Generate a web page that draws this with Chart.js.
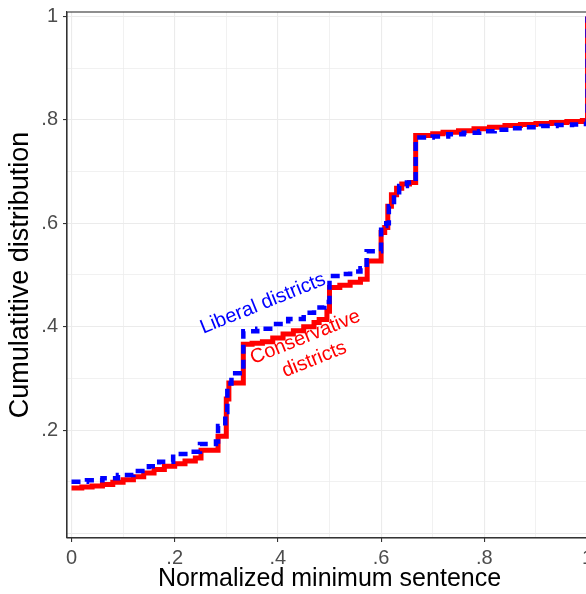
<!DOCTYPE html>
<html>
<head>
<meta charset="utf-8">
<script src="https://cdn.jsdelivr.net/npm/chart.js@4.4.1/dist/chart.umd.min.js"></script>
<style>
  html, body { margin: 0; padding: 0; background: #ffffff; overflow: hidden; width: 586px; height: 594px; }
  canvas { display: block; }
</style>
</head>
<body>
<canvas id="c" width="596" height="594"></canvas>
<script>
// ---- Data ----
const consXs = [0, 0.02, 0.04, 0.06, 0.08, 0.10, 0.12, 0.14, 0.16, 0.18, 0.20, 0.22, 0.24, 0.251, 0.284, 0.300, 0.305, 0.333,
  0.35, 0.37, 0.39, 0.41, 0.43, 0.45, 0.47, 0.48, 0.495, 0.500, 0.52, 0.54, 0.56, 0.573, 0.600, 0.607, 0.613, 0.62, 0.63, 0.64, 0.655, 0.667,
  0.70, 0.72, 0.75, 0.78, 0.81, 0.84, 0.87, 0.90, 0.93, 0.96, 0.99, 1.0];
const consYs = [0.088, 0.090, 0.092, 0.095, 0.099, 0.104, 0.110, 0.117, 0.124, 0.130, 0.135, 0.140, 0.146, 0.161, 0.188, 0.260, 0.291, 0.366,
  0.368, 0.371, 0.378, 0.386, 0.392, 0.400, 0.408, 0.414, 0.430, 0.476, 0.480, 0.486, 0.492, 0.527, 0.582, 0.592, 0.633, 0.655, 0.668, 0.676, 0.679, 0.770,
  0.773, 0.776, 0.779, 0.783, 0.786, 0.789, 0.791, 0.793, 0.795, 0.797, 0.799, 1.0];

const libXs = [0, 0.03, 0.06, 0.09, 0.12, 0.15, 0.17, 0.197, 0.23, 0.249, 0.28, 0.284, 0.298, 0.302, 0.310, 0.333,
  0.36, 0.39, 0.42, 0.45, 0.47, 0.49, 0.500, 0.52, 0.54, 0.56, 0.572, 0.600, 0.61, 0.615, 0.625, 0.635, 0.65, 0.667,
  0.70, 0.73, 0.76, 0.79, 0.82, 0.85, 0.88, 0.91, 0.94, 0.97, 0.99, 1.0];
const libYs = [0.100, 0.103, 0.107, 0.113, 0.121, 0.130, 0.139, 0.154, 0.158, 0.173, 0.178, 0.208, 0.235, 0.290, 0.310, 0.391,
  0.396, 0.405, 0.415, 0.427, 0.437, 0.448, 0.498, 0.502, 0.507, 0.513, 0.546, 0.595, 0.600, 0.633, 0.655, 0.672, 0.679, 0.766,
  0.768, 0.772, 0.775, 0.778, 0.781, 0.784, 0.786, 0.788, 0.790, 0.791, 0.792, 1.0];

const xTickValues = [0, 0.1, 0.2, 0.3, 0.4, 0.5, 0.6, 0.7, 0.8, 0.9, 1.0];
const xTickLabels = ["0", "", ".2", "", ".4", "", ".6", "", ".8", "", "1"];
const yTickValues = [0, 0.1, 0.2, 0.3, 0.4, 0.5, 0.6, 0.7, 0.8, 0.9, 1.0];
const yTickLabels = ["", "", ".2", "", ".4", "", ".6", "", ".8", "", "1"];

const xTitle = "Normalized minimum sentence";
const yTitle = "Cumulatitive distribution";

const annotations = [
  { lines: ["Liberal districts"], x: 0.371, y: 0.4445, color: "#0000FF" },
  { lines: ["Conservative", "districts"], x: 0.462, y: 0.358, color: "#FF0000" }
];

// ---- Build ----
const consData = consXs.map((x, i) => ({ x: x, y: consYs[i] }));
const libData = libXs.map((x, i) => ({ x: x, y: libYs[i] }));

const isMajor = v => Math.round(v * 10) % 2 === 0;

const frame = {
  id: 'frame',
  afterDatasetsDraw(chart) {
    const a = chart.chartArea, ctx = chart.ctx;
    ctx.save();
    ctx.strokeStyle = '#333333';
    ctx.lineWidth = 1.1;
    ctx.strokeRect(a.left, a.top, a.right - a.left, a.bottom - a.top);
    ctx.restore();
  }
};

const labels = {
  id: 'labels',
  afterDatasetsDraw(chart) {
    const ctx = chart.ctx, xs = chart.scales.x, ys = chart.scales.y;
    ctx.save();
    ctx.font = '20px "Liberation Sans", Arial, sans-serif';
    ctx.textAlign = 'center';
    ctx.textBaseline = 'middle';
    annotations.forEach(an => {
      const px = xs.getPixelForValue(an.x), py = ys.getPixelForValue(an.y);
      ctx.save();
      ctx.translate(px, py);
      ctx.rotate(-22 * Math.PI / 180);
      ctx.fillStyle = an.color;
      const lh = 24;
      const n = an.lines.length;
      an.lines.forEach((t, i) => {
        ctx.fillText(t, 0, (i - (n - 1) / 2) * lh);
      });
      ctx.restore();
    });
    ctx.restore();
  }
};

new Chart(document.getElementById('c'), {
  type: 'scatter',
  data: {
    datasets: [
      { label: 'Conservative districts', data: consData, showLine: true, stepped: 'before',
        borderColor: '#FF0000', backgroundColor: '#FF0000', borderWidth: 5, pointRadius: 0,
        borderJoinStyle: 'miter', borderCapStyle: 'butt', order: 2 },
      { label: 'Liberal districts', data: libData, showLine: true, stepped: 'before',
        borderColor: '#0000FF', backgroundColor: '#0000FF', borderWidth: 4.5, pointRadius: 0,
        borderDash: [9, 6], borderJoinStyle: 'miter', borderCapStyle: 'butt', order: 1 }
    ]
  },
  options: {
    responsive: false,
    animation: false,
    devicePixelRatio: 1,
    layout: { padding: { top: 12, right: 4, left: 0, bottom: 0 } },
    plugins: { legend: { display: false }, tooltip: { enabled: false } },
    scales: {
      x: {
        type: 'linear', min: -0.0087, max: 1.0087,
        afterBuildTicks: axis => { axis.ticks = xTickValues.map(v => ({ value: v })); },
        afterFit: axis => { axis.height = 56; axis.paddingLeft = 0; axis.paddingRight = 0; },
        ticks: {
          autoSkip: false, maxRotation: 0, padding: 4, color: '#4D4D4D',
          font: { family: '"Liberation Sans", Arial, sans-serif', size: 20 },
          callback: (v, i) => xTickLabels[i]
        },
        grid: {
          color: '#EBEBEB',
          lineWidth: c => (c.tick && isMajor(c.tick.value)) ? 1.1 : 0.7,
          tickColor: c => (c.tick && isMajor(c.tick.value)) ? '#333333' : 'rgba(0,0,0,0)',
          tickLength: 4, tickWidth: 1.1
        },
        border: { display: true, color: '#333333', width: 1.1 },
        title: { display: true, text: xTitle, color: '#000000',
          font: { family: '"Liberation Sans", Arial, sans-serif', size: 25 }, padding: { top: 0, bottom: 0 } }
      },
      y: {
        type: 'linear', min: -0.0087, max: 1.0087,
        afterBuildTicks: axis => { axis.ticks = yTickValues.map(v => ({ value: v })); },
        afterFit: axis => { axis.width = 67; axis.paddingTop = 0; axis.paddingBottom = 0; },
        ticks: {
          autoSkip: false, padding: 5, color: '#4D4D4D',
          font: { family: '"Liberation Sans", Arial, sans-serif', size: 20 },
          callback: (v, i) => yTickLabels[i]
        },
        grid: {
          color: '#EBEBEB',
          lineWidth: c => (c.tick && isMajor(c.tick.value)) ? 1.1 : 0.7,
          tickColor: c => (c.tick && isMajor(c.tick.value) && c.tick.value > 0.05) ? '#333333' : 'rgba(0,0,0,0)',
          tickLength: 4, tickWidth: 1.1
        },
        border: { display: true, color: '#333333', width: 1.1 },
        title: { display: true, text: yTitle, color: '#000000',
          font: { family: '"Liberation Sans", Arial, sans-serif', size: 27 }, padding: { top: 4, bottom: 0 } }
      }
    }
  },
  plugins: [frame, labels]
});
</script>
</body>
</html>
